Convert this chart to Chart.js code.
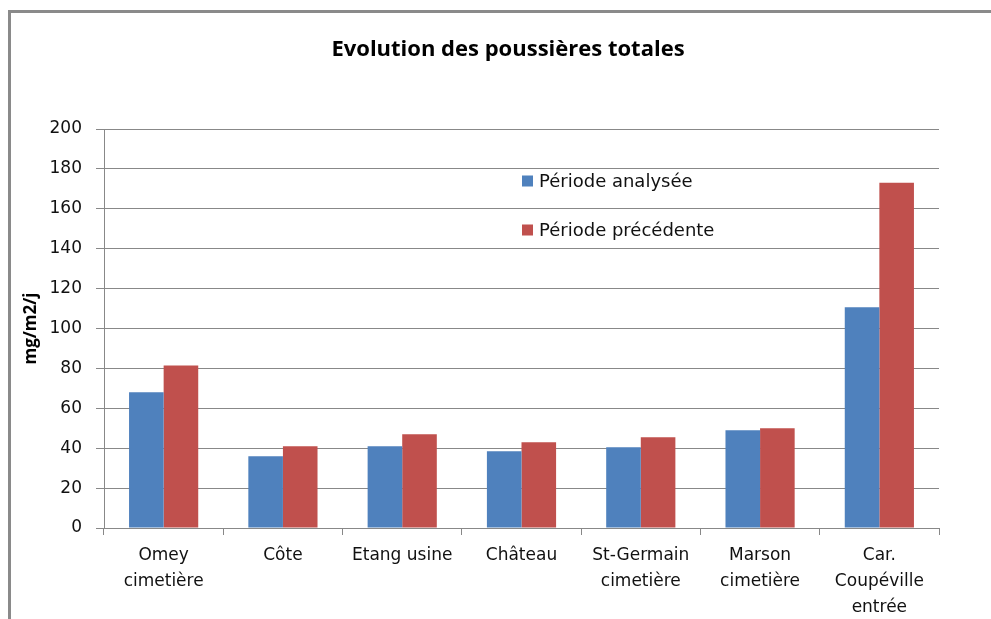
<!DOCTYPE html>
<html>
<head>
<meta charset="utf-8">
<script src="https://cdn.jsdelivr.net/npm/chart.js@4"></script>
<style>
  html, body { margin: 0; padding: 0; background: #fff; }
  #wrap { position: relative; width: 991px; height: 619px; overflow: hidden; }
  #frame { position: absolute; left: 8px; top: 10px; width: 1000px; height: 700px; border-left: 3px solid #8a8a8a; border-top: 3px solid #8a8a8a; box-sizing: border-box; }
  canvas { position: absolute; left: 0; top: 0; }
</style>
</head>
<body>
<div id="wrap">
  <div id="frame"></div>
  <canvas id="c" width="991" height="619"></canvas>
</div>
<script>
const titleText = "Evolution des poussières totales";
const yAxisTitle = "mg/m2/j";
const categories = [
  ["Omey", "cimetière"],
  ["Côte"],
  ["Etang usine"],
  ["Château"],
  ["St-Germain", "cimetière"],
  ["Marson", "cimetière"],
  ["Car.", "Coupéville", "entrée"]
];
const seriesNames = ["Période analysée", "Période précédente"];
const periodeAnalysee = [68, 36, 41, 38.5, 40.5, 49, 110.7];
const periodePrecedente = [81.5, 41, 47, 43, 45.5, 50, 173];
const yMin = 0, yMax = 200, yStep = 20;
const colors = ["#4F81BD", "#C0504D"];

const overlay = {
  id: 'overlay',
  afterDraw(chart) {
    const ctx = chart.ctx;
    ctx.save();
    // Title
    ctx.fillStyle = '#000';
    ctx.font = 'bold 22px "Open Sans"';
    ctx.textAlign = 'center';
    ctx.textBaseline = 'middle';
    ctx.fillText(titleText, 508, 50);
    // Legend
    ctx.font = '18px "DejaVu Sans"';
    ctx.textAlign = 'left';
    const ys = [181, 230];
    chart.data.datasets.forEach((ds, i) => {
      ctx.fillStyle = ds.backgroundColor;
      ctx.fillRect(522, ys[i] - 5.5, 11, 11);
      ctx.fillStyle = '#111';
      ctx.fillText(ds.label, 539, ys[i] + 1);
    });
    ctx.restore();
  }
};

new Chart(document.getElementById('c'), {
  type: 'bar',
  data: {
    labels: categories,
    datasets: [
      { label: seriesNames[0], data: periodeAnalysee, backgroundColor: colors[0] },
      { label: seriesNames[1], data: periodePrecedente, backgroundColor: colors[1] }
    ]
  },
  options: {
    responsive: false,
    animation: false,
    devicePixelRatio: 1,
    layout: { padding: { left: 0, right: 52, top: 129, bottom: 0 } },
    datasets: { bar: { categoryPercentage: 0.58, barPercentage: 1.0 } },
    plugins: {
      legend: { display: false },
      title: { display: false },
      tooltip: { enabled: false }
    },
    scales: {
      x: {
        grid: { display: true, drawOnChartArea: false, drawTicks: true, tickLength: 7, color: '#888', offset: true },
        border: { color: '#888', width: 1 },
        ticks: { color: '#111', font: { family: '"DejaVu Sans"', size: 17, lineHeight: 1.53 }, padding: 8, maxRotation: 0, autoSkip: false },
        afterFit(scale) { scale.height = 619 - 528; }
      },
      y: {
        min: yMin, max: yMax,
        grid: { color: '#888', lineWidth: 1, tickLength: 8, drawTicks: true },
        border: { color: '#888', width: 1 },
        ticks: { stepSize: yStep, color: '#111', font: { family: '"DejaVu Sans"', size: 17 }, padding: 14 },
        title: { display: true, text: yAxisTitle, color: '#000', font: { family: '"Open Sans"', size: 17, weight: 'bold' }, padding: { top: 21, bottom: 8 } },
        afterFit(scale) { scale.width = 104; }
      }
    }
  },
  plugins: [overlay]
});
</script>
</body>
</html>
